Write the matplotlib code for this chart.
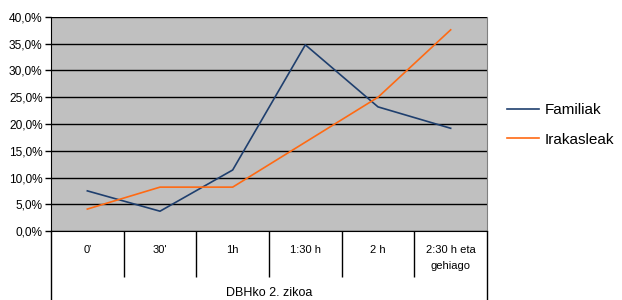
import matplotlib.pyplot as plt
from matplotlib.lines import Line2D
from matplotlib.ticker import FuncFormatter

plt.rcParams['font.family'] = ['Liberation Sans', 'DejaVu Sans']

categories = ["0'", "30'", "1h", "1:30 h", "2 h", "2:30 h eta\ngehiago"]
familiak = [7.5, 3.7, 11.4, 34.8, 23.2, 19.2]
irakasleak = [4.1, 8.2, 8.2, 16.6, 25.0, 37.6]

fig = plt.figure(figsize=(6.22, 3.0), dpi=100)
W, H = 622, 300
L, R, T, B = 51, 487, 17, 231
ax = fig.add_axes([L / W, 1 - B / H, (R - L) / W, (B - T) / H])
ax.set_facecolor('#c0c0c0')

x = list(range(len(categories)))
ax.plot(x, familiak, color='#1f3f6e', lw=1.2, label='Familiak')
ax.plot(x, irakasleak, color='#ff6a13', lw=1.2, label='Irakasleak')

ax.set_xlim(-0.5, len(categories) - 0.5)
ax.set_ylim(0, 40)
ax.set_yticks(range(0, 41, 5))
ax.yaxis.set_major_formatter(FuncFormatter(lambda v, p: f'{v:.1f}%'.replace('.', ',')))
ax.yaxis.grid(True, color='black', lw=1)
ax.set_axisbelow(True)
ax.tick_params(axis='y', length=4, width=1, labelsize=8.6, pad=2)

# category axis: boundaries as long ticks, labels centred
ax.set_xticks([i + 0.5 for i in range(len(categories) - 1)])
ax.set_xticklabels([])
ax.tick_params(axis='x', which='major', length=33, width=1, direction='out')
ax.set_xticks(x, minor=True)
ax.set_xticklabels(categories, minor=True, fontsize=8, va='top', linespacing=1.75)
ax.tick_params(axis='x', which='minor', length=0, pad=10)

ax.spines['top'].set_visible(False)
ax.spines['right'].set_color('#808080')
ax.spines['left'].set_color('black')
ax.spines['bottom'].set_color('black')

ext = (H - B) / (B - T)
ax.add_line(Line2D([0, 0], [0, -ext], transform=ax.transAxes, color='black', lw=1, clip_on=False))
ax.add_line(Line2D([1, 1], [0, -ext], transform=ax.transAxes, color='black', lw=1, clip_on=False))
ax.text(0.5, -(293 - B) / (B - T), 'DBHko 2. zikoa', transform=ax.transAxes,
        ha='center', va='center', fontsize=9)

fig.legend(loc='center left', bbox_to_anchor=(507 / W, 1 - 125 / H), frameon=False,
           fontsize=11, handlelength=2.1, labelspacing=1.0, handletextpad=0.35,
           borderpad=0, borderaxespad=0)

fig.savefig('out.png', dpi=100)
